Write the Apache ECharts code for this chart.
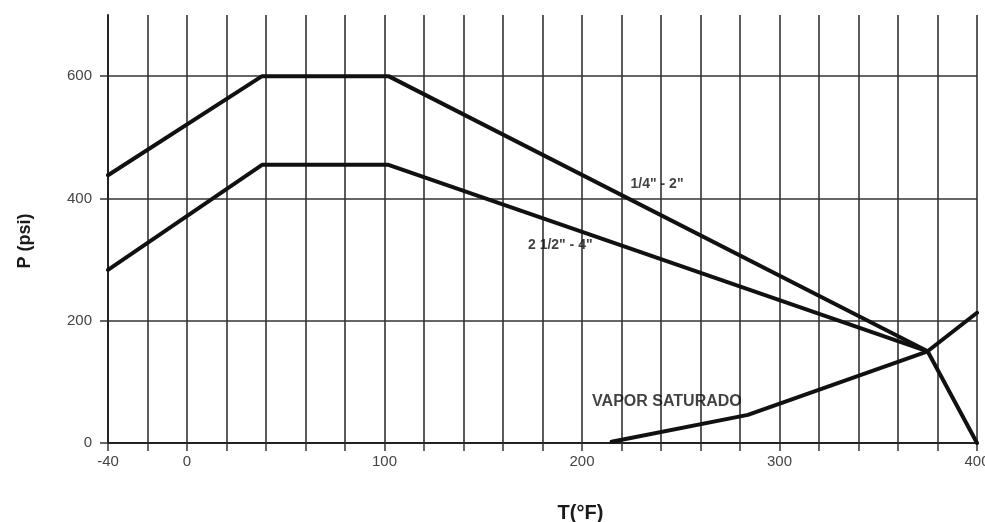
<!DOCTYPE html>
<html>
<head>
<meta charset="utf-8">
<script src="https://cdn.jsdelivr.net/npm/echarts@6/dist/echarts.min.js"></script>
<style>
  html, body { margin: 0; padding: 0; background: #ffffff; }
  #chart { width: 985px; height: 522px; }
</style>
</head>
<body>
<div id="chart"></div>
<script>
// Pressure limits (psi) versus temperature (°F) for two size ranges,
// plus the saturated-steam curve.
const tempSmall = [-40, 38, 102, 375, 400];
const presSmall = [438, 600, 600, 150, 0];

const tempLarge = [-40, 38, 102, 375];
const presLarge = [283, 455, 455, 150];

const tempVapor = [215, 284, 375, 400];
const presVapor = [2, 46, 150, 213];

// Labelled ticks
const xTickLabels = [-40, 0, 100, 200, 300, 400];
const yTickLabels = [0, 200, 400, 600];

// In-plot curve captions and their anchor points (T, P)
const captionText = ['1/4" - 2"', '2 1/2" - 4"', 'VAPOR SATURADO'];
const captionT = [238, 189, 243];
const captionP = [424, 324, 67];
const captionSize = [14, 14, 16];

const FONT = '"Liberation Sans", Arial, sans-serif';

function pairs(xs, ys) {
  return xs.map((x, i) => [x, ys[i]]);
}

const curveStyle = { color: '#111111', width: 4, cap: 'round', join: 'round' };

const chart = echarts.init(document.getElementById('chart'), null, { renderer: 'canvas' });

chart.setOption({
  backgroundColor: '#ffffff',
  animation: false,
  grid: { left: 108, right: 8, top: 15, bottom: 79, containLabel: false, outerBoundsMode: 'none' },
  xAxis: {
    type: 'value',
    min: -40,
    max: 400,
    interval: 20,
    name: 'T(°F)',
    nameLocation: 'middle',
    nameGap: 60,
    nameTextStyle: { fontFamily: FONT, fontSize: 20, fontWeight: 'bold', color: '#1a1a1a', padding: [0, 0, 0, 76] },
    axisLine: { show: true, onZero: false, lineStyle: { color: '#222', width: 2 } },
    axisTick: { show: true, length: 8, lineStyle: { color: '#333', width: 1.5 } },
    axisLabel: {
      customValues: xTickLabels,
      fontFamily: FONT, fontSize: 15, color: '#444', margin: 11
    },
    splitLine: { show: true, lineStyle: { color: '#333', width: 1.6 } }
  },
  yAxis: {
    type: 'value',
    min: 0,
    max: 700,
    interval: 100,
    name: 'P (psi)',
    nameLocation: 'middle',
    nameGap: 74,
    nameTextStyle: { fontFamily: FONT, fontSize: 18, fontWeight: 'bold', color: '#1a1a1a', padding: [0, 24, 0, 0] },
    axisLine: { show: true, onZero: false, lineStyle: { color: '#222', width: 2 } },
    axisTick: { show: true, length: 8, customValues: yTickLabels, lineStyle: { color: '#333', width: 1.5 } },
    axisLabel: {
      customValues: yTickLabels,
      fontFamily: FONT, fontSize: 15, color: '#444', margin: 16
    },
    splitLine: { show: true, lineStyle: { color: '#333', width: 1.6 } }
  },
  series: [
    {
      name: captionText[0],
      type: 'line',
      data: pairs(tempSmall, presSmall),
      showSymbol: false,
      silent: true,
      lineStyle: curveStyle,
      z: 5
    },
    {
      name: captionText[1],
      type: 'line',
      data: pairs(tempLarge, presLarge),
      showSymbol: false,
      silent: true,
      lineStyle: curveStyle,
      z: 5
    },
    {
      name: captionText[2],
      type: 'line',
      data: pairs(tempVapor, presVapor),
      showSymbol: false,
      silent: true,
      lineStyle: curveStyle,
      z: 5
    },
    {
      name: 'captions',
      type: 'scatter',
      silent: true,
      symbolSize: 0,
      itemStyle: { color: '#111' },
      data: captionText.map((t, i) => ({
        value: [captionT[i], captionP[i]],
        name: t,
        label: { fontSize: captionSize[i] }
      })),
      label: {
        show: true,
        position: [0, 0],
        align: 'center',
        verticalAlign: 'middle',
        formatter: p => p.name,
        fontFamily: FONT,
        fontWeight: 'bold',
        fontSize: 14,
        color: '#111',
        textBorderWidth: 0
      },
      z: 6
    }
  ]
});
</script>
</body>
</html>
